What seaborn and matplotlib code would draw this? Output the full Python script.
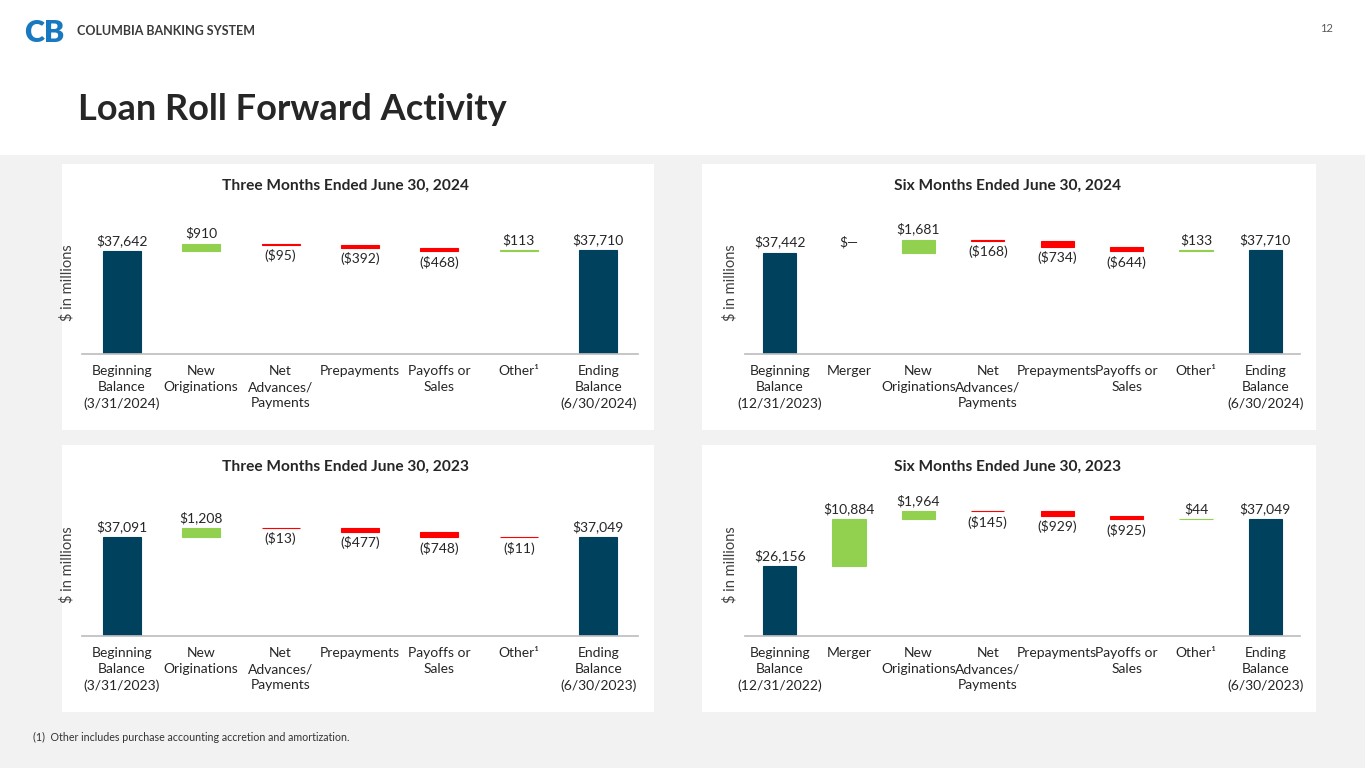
import matplotlib
matplotlib.use("Agg")
import matplotlib.pyplot as plt
from matplotlib.patches import Rectangle
import seaborn as sns

# ---- data (in $ millions) ----
q2_24_cats = ["Beginning\nBalance\n(3/31/2024)", "New\nOriginations", "Net\nAdvances/\nPayments",
              "Prepayments", "Payoffs or\nSales", "Other¹", "Ending\nBalance\n(6/30/2024)"]
q2_24_vals = [37642, 910, -95, -392, -468, 113, 37710]

ytd_24_cats = ["Beginning\nBalance\n(12/31/2023)", "Merger", "New\nOriginations", "Net\nAdvances/\nPayments",
               "Prepayments", "Payoffs or\nSales", "Other¹", "Ending\nBalance\n(6/30/2024)"]
ytd_24_vals = [37442, 0, 1681, -168, -734, -644, 133, 37710]

q2_23_cats = ["Beginning\nBalance\n(3/31/2023)", "New\nOriginations", "Net\nAdvances/\nPayments",
              "Prepayments", "Payoffs or\nSales", "Other¹", "Ending\nBalance\n(6/30/2023)"]
q2_23_vals = [37091, 1208, -13, -477, -748, -11, 37049]

ytd_23_cats = ["Beginning\nBalance\n(12/31/2022)", "Merger", "New\nOriginations", "Net\nAdvances/\nPayments",
               "Prepayments", "Payoffs or\nSales", "Other¹", "Ending\nBalance\n(6/30/2023)"]
ytd_23_vals = [26156, 10884, 1964, -145, -929, -925, 44, 37049]

NAVY = "#00425E"
GREEN = "#92D050"
RED = "#FF0000"
TEXT = "#262626"

W, H = 1365, 768


def fig_rect(x0, y0, x1, y1):
    # pixel box (top-left origin) -> figure fraction [left, bottom, width, height]
    return [x0 / W, 1 - y1 / H, (x1 - x0) / W, (y1 - y0) / H]


def waterfall(vals):
    bottoms, heights, colors = [], [], []
    running = 0
    last = len(vals) - 1
    for i, v in enumerate(vals):
        if i == 0 or i == last:
            bottoms.append(0)
            heights.append(v)
            colors.append(NAVY)
            running = v
        elif v >= 0:
            bottoms.append(running)
            heights.append(v)
            colors.append(GREEN)
            running += v
        else:
            bottoms.append(running + v)
            heights.append(-v)
            colors.append(RED)
            running += v
    return bottoms, heights, colors


def money(v):
    if v == 0:
        return "$\u2014"
    if v < 0:
        return f"(${-v:,})"
    return f"${v:,}"


def draw_panel(fig, box, axes_px, title_x, title, cats, vals, ylim):
    x0, y0, x1, y1 = box
    fig.add_artist(Rectangle((x0 / W, 1 - y1 / H), (x1 - x0) / W, (y1 - y0) / H,
                             transform=fig.transFigure, facecolor="white",
                             edgecolor="none", zorder=-1))
    fig.text(title_x / W, 1 - (y0 + 22) / H, title, ha="center", va="center",
             fontsize=11.2, fontweight="bold", color=TEXT)

    ax = fig.add_axes(fig_rect(*axes_px))
    bottoms, heights, colors = waterfall(vals)
    sns.barplot(x=cats, y=heights, bottom=bottoms, width=0.48, errorbar=None,
                color=NAVY, ax=ax)
    for p, c, v in zip(ax.patches, colors, vals):
        p.set_facecolor(c)
        p.set_edgecolor(c)
        p.set_linewidth(0 if v == 0 else 0.8)

    # value labels: above for totals / increases, below for decreases
    for i, (b, h, v) in enumerate(zip(bottoms, heights, vals)):
        if v < 0:
            ax.annotate(money(v), xy=(i, b), xytext=(0, -3), textcoords="offset points",
                        ha="center", va="top", fontsize=10, color=TEXT)
        else:
            ax.annotate(money(v), xy=(i, b + h), xytext=(0, 3), textcoords="offset points",
                        ha="center", va="bottom", fontsize=10, color=TEXT)

    ax.set_ylim(*ylim)
    ax.set_facecolor("white")
    sns.despine(ax=ax, left=True)
    ax.spines["bottom"].set_color("#bfbfbf")
    ax.set_yticks([])
    ax.tick_params(axis="x", length=0, pad=8, labelsize=10, colors=TEXT)
    for lab in ax.get_xticklabels():
        lab.set_linespacing(1.4)
    ax.set_xlabel("")
    ax.set_ylabel("$ in millions", fontsize=10.5, color="#404040")
    ax.yaxis.set_label_coords(-0.013, 0.47)
    return ax


sns.set_theme(style="white")
plt.rcParams["font.family"] = ["Lato", "DejaVu Sans"]
plt.rcParams["text.parse_math"] = False

fig = plt.figure(figsize=(W / 100, H / 100), dpi=100)
fig.patch.set_facecolor("#F2F2F2")

# white header band
fig.add_artist(Rectangle((0, 1 - 155 / H), 1, 155 / H, transform=fig.transFigure,
                         facecolor="white", edgecolor="none", zorder=-1))

# logo + header text
fig.text(24 / W, 1 - 33 / H, "CB", fontsize=22, fontweight="heavy", color="#1878C0",
         ha="left", va="center")
fig.text(77 / W, 1 - 31 / H, "COLUMBIA BANKING SYSTEM", fontsize=9, fontweight="bold",
         color="#3a3a3a", ha="left", va="center")
fig.text(1333 / W, 1 - 28 / H, "12", fontsize=8, color="#595959", ha="right", va="center")
fig.text(78 / W, 1 - 110 / H, "Loan Roll Forward Activity", fontsize=26, fontweight="bold",
         color=TEXT, ha="left", va="center")

draw_panel(fig, (62, 164, 654, 430), (82, 203, 638, 354), 346,
           "Three Months Ended June 30, 2024", q2_24_cats, q2_24_vals, (24000, 44000))
draw_panel(fig, (702, 164, 1316, 430), (745, 203, 1300, 354), 1008,
           "Six Months Ended June 30, 2024", ytd_24_cats, ytd_24_vals, (24000, 44000))
draw_panel(fig, (62, 445, 654, 712), (82, 485, 638, 636), 346,
           "Three Months Ended June 30, 2023", q2_23_cats, q2_23_vals, (24000, 44000))
draw_panel(fig, (702, 445, 1316, 712), (745, 485, 1300, 636), 1008,
           "Six Months Ended June 30, 2023", ytd_23_cats, ytd_23_vals, (10000, 45000))

fig.text(33 / W, 1 - 737 / H, "(1)  Other includes purchase accounting accretion and amortization.",
         fontsize=7.7, color="#333333", ha="left", va="center")

fig.savefig("out.png", dpi=100, facecolor=fig.get_facecolor())
